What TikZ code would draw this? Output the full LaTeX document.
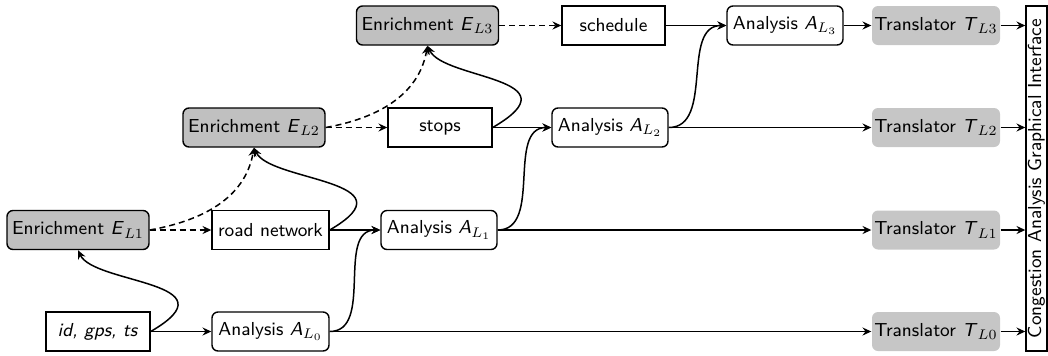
\documentclass[tikz,border=0pt]{standalone}
\usetikzlibrary{arrows.meta,calc}
\definecolor{enrgray}{RGB}{192,192,192}
\definecolor{trgray}{RGB}{198,198,198}
\begin{document}
\begin{tikzpicture}[x=0.5pt,y=0.5pt,
  font=\fontsize{9.4}{11}\selectfont\sffamily,
  base/.style={minimum height=19.5pt, inner sep=0pt, line width=0.7pt},
  databox/.style={base,draw,fill=white},
  anabox/.style={base,draw,rounded corners=3pt},
  enrbox/.style={base,draw,fill=enrgray,rounded corners=3pt,minimum width=71pt},
  trbox/.style={base,fill=trgray,rounded corners=3pt,minimum width=64pt},
  conn/.style={-{Stealth[length=4.4pt,width=4pt,inset=1.5pt]},line width=0.75pt},
  dconn/.style={conn,dash pattern=on 3pt off 2pt},
  loopc/.style={conn}]
\useasboundingbox (0,0) rectangle (1048,-355);
% row 0
\node[databox,minimum width=52pt] (id) at (98,-331.5) {\textit{id, gps, ts}};
\node[anabox,minimum width=58.5pt] (a0) at (270.5,-331.5) {Analysis \textit{A}$_{L_0}$};
\node[trbox] (t0) at (936,-331.5) {Translator \textit{T}$_{L0}$};
% row 1
\node[enrbox] (e1) at (78,-230) {Enrichment \textit{E}$_{L1}$};
\node[databox,minimum width=58.5pt] (road) at (270.5,-230) {road network};
\node[anabox,minimum width=58pt] (a1) at (439,-230) {Analysis \textit{A}$_{L_1}$};
\node[trbox] (t1) at (936,-230) {Translator \textit{T}$_{L1}$};
% row 2
\node[enrbox] (e2) at (254,-127.5) {Enrichment \textit{E}$_{L2}$};
\node[databox,minimum width=52pt] (stops) at (440,-127.5) {stops};
\node[anabox,minimum width=58pt] (a2) at (610,-127.5) {Analysis \textit{A}$_{L_2}$};
\node[trbox] (t2) at (936,-127.5) {Translator \textit{T}$_{L2}$};
% row 3
\node[enrbox] (e3) at (427.5,-25.5) {Enrichment \textit{E}$_{L3}$};
\node[databox,minimum width=51.5pt] (sched) at (613.5,-25.5) {schedule};
\node[anabox,minimum width=58pt] (a3) at (785,-25.5) {Analysis \textit{A}$_{L_3}$};
\node[trbox] (t3) at (936,-25.5) {Translator \textit{T}$_{L3}$};
% GUI
\node[draw,line width=0.7pt,rotate=90,minimum width=172.5pt,minimum height=10.5pt,inner sep=0pt] (gui) at (1036.5,-178.5) {Congestion Analysis Graphical Interface};
% connectors
\draw[conn] (id.east) -- (a0.west);
\draw[loopc] (id.east) .. controls +(86,50) and +(16,-34) .. (e1.south);
\draw[dconn] (e1.east) -- (road.west);
\draw[dconn] (e1.east) to[out=10,in=-100] (e2.south);
\draw[conn] (road.east) -- (a1.west);
\draw[loopc] (road.east) .. controls +(86,50) and +(16,-34) .. (e2.south);
\draw[dconn] (e2.east) -- (stops.west);
\draw[dconn] (e2.east) to[out=10,in=-100] (e3.south);
\draw[conn] (stops.east) -- (a2.west);
\draw[loopc] (stops.east) .. controls +(86,50) and +(16,-34) .. (e3.south);
\draw[dconn] (e3.east) -- (sched.west);
\draw[conn] (sched.east) -- (a3.west);
\draw[conn] (a0.east) to[out=0,in=180] (a1.west);
\draw[conn] (a1.east) to[out=0,in=180] (a2.west);
\draw[conn] (a2.east) to[out=0,in=180] (a3.west);
\draw[conn] (a0.east) -- (t0.west);
\draw[conn] (a1.east) -- (t1.west);
\draw[conn] (a2.east) -- (t2.west);
\draw[conn] (a3.east) -- (t3.west);
\draw[conn] (t0.east) -- (t0.east -| gui.north);
\draw[conn] (t1.east) -- (t1.east -| gui.north);
\draw[conn] (t2.east) -- (t2.east -| gui.north);
\draw[conn] (t3.east) -- (t3.east -| gui.north);
\end{tikzpicture}
\end{document}
